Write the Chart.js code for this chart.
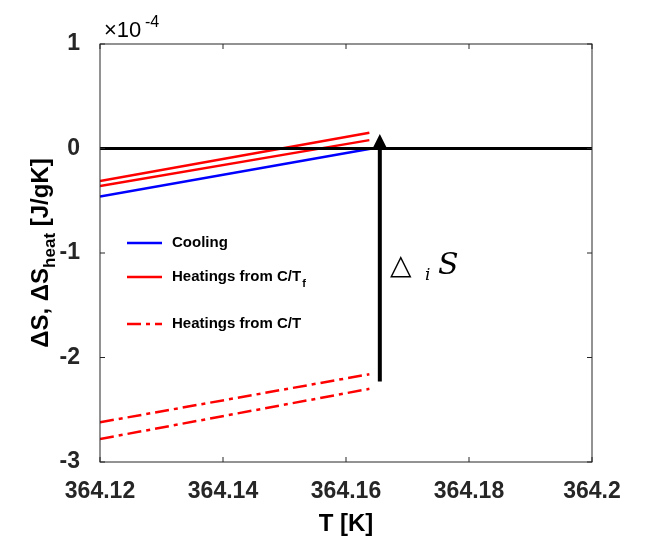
<!DOCTYPE html><html><head><script src="https://cdn.jsdelivr.net/npm/chart.js@4"></script>
<style>body{margin:0;background:#fff}</style></head><body>
<div style="width:654px;height:547px"><canvas id="c"></canvas></div>
<script>
const xTicks=[364.12,364.14,364.16,364.18,364.2];
const yTicks=[-3,-2,-1,0,1];
const cooling=[{x:364.12,y:-0.46},{x:364.1642,y:0}];
const heatF1=[{x:364.12,y:-0.31},{x:364.1638,y:0.15}];
const heatF2=[{x:364.12,y:-0.36},{x:364.1638,y:0.08}];
const heatT1=[{x:364.12,y:-2.62},{x:364.1638,y:-2.16}];
const heatT2=[{x:364.12,y:-2.78},{x:364.1638,y:-2.30}];
const zeroLine=[{x:364.12,y:0},{x:364.2,y:0}];
const arrowX=364.1655, arrowFrom=-2.23, arrowTo=0.12;
const F='"Liberation Sans", Arial, sans-serif';
const DD=[14,5,4,5];
const ds=(d,c,w,dash)=>({data:d,borderColor:c,borderWidth:w,borderDash:dash||[],pointRadius:0,fill:false});
const plug={id:'p',afterDraw(ch){const c=ch.ctx,a=ch.chartArea,xs=ch.scales.x,ys=ch.scales.y;
c.save();c.strokeStyle='#262626';c.lineWidth=1;c.strokeRect(a.left,a.top,a.right-a.left,a.bottom-a.top);
xTicks.forEach(t=>{const p=xs.getPixelForValue(t);c.beginPath();c.moveTo(p,a.bottom);c.lineTo(p,a.bottom-5);c.moveTo(p,a.top);c.lineTo(p,a.top+5);c.stroke();});
yTicks.forEach(t=>{const p=ys.getPixelForValue(t);c.beginPath();c.moveTo(a.left,p);c.lineTo(a.left+5,p);c.moveTo(a.right,p);c.lineTo(a.right-5,p);c.stroke();});
const ax=xs.getPixelForValue(arrowX),y0=ys.getPixelForValue(arrowFrom),y1=ys.getPixelForValue(arrowTo);
c.strokeStyle='#000';c.fillStyle='#000';c.lineWidth=4;c.beginPath();c.moveTo(ax,y0);c.lineTo(ax,y1+8);c.stroke();
c.beginPath();c.moveTo(ax,y1-2);c.lineTo(ax-7,y1+12);c.lineTo(ax+7,y1+12);c.closePath();c.fill();
const L=[['#0000ff',[],'Cooling',243],['#ff0000',[],'Heatings from C/T',277],['#ff0000',DD,'Heatings from C/T',324]];
L.forEach((l,i)=>{c.strokeStyle=l[0];c.lineWidth=2.5;c.setLineDash(l[1]);c.beginPath();c.moveTo(127,l[3]);c.lineTo(162,l[3]);c.stroke();c.setLineDash([]);
c.fillStyle='#000';c.font='bold 15px '+F;c.textBaseline='middle';c.textAlign='left';c.fillText(l[2],172,l[3]);
if(i==1){const w=c.measureText(l[2]).width;c.font='bold 11px '+F;c.fillText('f',172+w+1,l[3]+7);}});
c.fillStyle='#000';c.textBaseline='alphabetic';c.font='28px "DejaVu Sans", sans-serif';c.fillText('△',390,274);
c.font='italic 17px "DejaVu Serif", serif';c.fillText('i',425,280);c.font='italic 30px "DejaVu Serif", serif';c.fillText('S',438,274);
c.font='22px '+F;c.fillText('×10',104,37);c.font='16px '+F;c.fillText('-4',145,27);
c.font='bold 24px '+F;c.textAlign='center';c.fillText('T [K]',346,531);
c.translate(40,253);c.rotate(-Math.PI/2);c.textAlign='left';c.font='bold 24px '+F;
const s1='ΔS, ΔS';const w1=c.measureText(s1).width;c.font='bold 17px '+F;const w2=c.measureText('heat').width;c.font='bold 24px '+F;const w3=c.measureText(' [J/gK]').width;
let x=-(w1+w2+w3)/2;c.fillText(s1,x,8);c.font='bold 17px '+F;c.fillText('heat',x+w1,15);c.font='bold 24px '+F;c.fillText(' [J/gK]',x+w1+w2,8);
c.restore();}};
new Chart(document.getElementById('c'),{type:'line',data:{datasets:[ds(zeroLine,'#000',3),ds(cooling,'#0000ff',2.5),ds(heatF1,'#ff0000',2.5),ds(heatF2,'#ff0000',2.5),ds(heatT1,'#ff0000',2.5,DD),ds(heatT2,'#ff0000',2.5,DD)]},
options:{animation:false,responsive:true,maintainAspectRatio:false,layout:{padding:{top:44,right:62,left:0,bottom:0}},
plugins:{legend:{display:false},tooltip:{enabled:false}},
scales:{x:{type:'linear',min:364.12,max:364.2,afterFit:s=>{s.height=85},afterBuildTicks:s=>{s.ticks=xTicks.map(v=>({value:v}))},
ticks:{callback:v=>String(+v.toFixed(2)),color:'#262626',font:{size:23,weight:'bold',family:F},maxRotation:0,padding:8},grid:{display:false},border:{display:false}},
y:{min:-3,max:1,afterFit:s=>{s.width=100},afterBuildTicks:s=>{s.ticks=yTicks.map(v=>({value:v}))},
ticks:{callback:v=>String(v),color:'#262626',font:{size:23,weight:'bold',family:F},padding:12},grid:{display:false},border:{display:false}}}},plugins:[plug]});
</script></body></html>
